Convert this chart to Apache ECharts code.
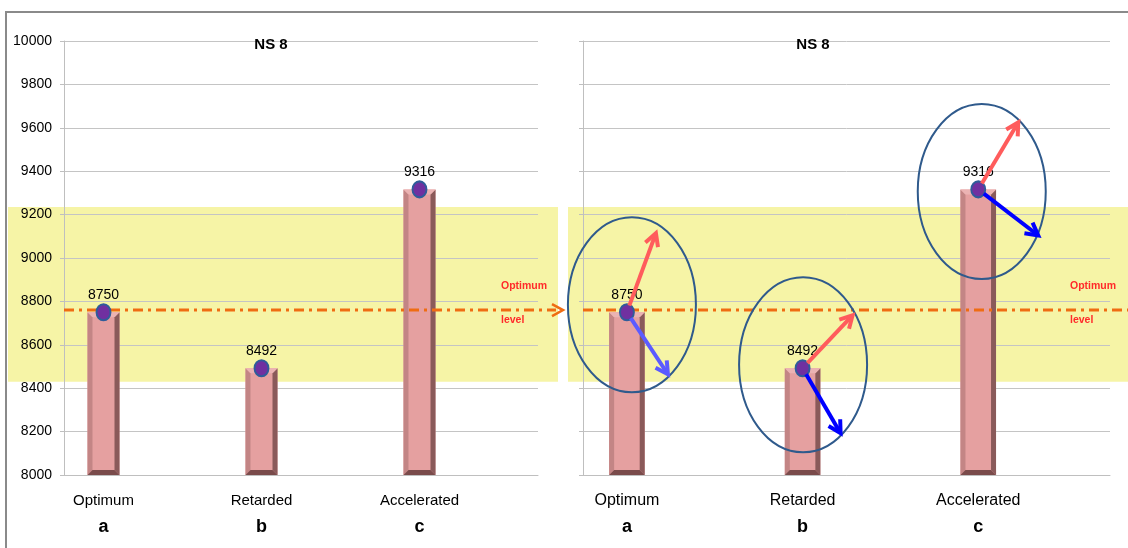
<!DOCTYPE html>
<html>
<head>
<meta charset="utf-8">
<script src="https://cdn.jsdelivr.net/npm/echarts@6/dist/echarts.min.js"></script>
<style>html,body{margin:0;padding:0;background:#fff}#c{width:1128px;height:548px}</style>
</head>
<body>
<div id="c"></div>
<script>
// ---- data ----
const categories = ['Optimum', 'Retarded', 'Accelerated'];
const letters = ['a', 'b', 'c'];
const values = [8750, 8492, 9316];
const panelTitles = ['NS 8', 'NS 8'];
const yMin = 8000, yMax = 10000, yStep = 200;
const optimumLevel = 8760;
const bandRange = [8430, 9235];
const levelText = ['Optimum', 'level'];

// ---- annotation styling (right panel), pixel offsets from each point ----
const annot = [
  { red: [29, -79], blue: [41, 62], blueColor: '#5b5bff', ell: [5, -7.5] },
  { red: [50, -53], blue: [38, 65], blueColor: '#0000ff', ell: [0.5, -3.5] },
  { red: [40, -67], blue: [60, 46], blueColor: '#0000ff', ell: [3.5, 2] }
];

const FONT = 'Liberation Sans';
// 6 slots: each category occupies every other slot
const slots = [];
categories.forEach((c, i) => { slots.push(c); slots.push(''); });
const pointData = values.map((v, i) => [i * 2, v]);

function renderBar(params, api) {
  const idx = api.value(0), v = api.value(1);
  const top = api.coord([idx, v]);
  const bot = api.coord([idx, yMin]);
  const w = api.size([1, 0])[0] * 0.405;
  const x0 = top[0] - w / 2, x1 = top[0] + w / 2, yt = top[1], yb = bot[1];
  const bl = 5, br = 5, bt = 5, bb = 5;
  return {
    type: 'group',
    children: [
      { type: 'rect', shape: { x: x0, y: yt, width: w, height: yb - yt }, style: { fill: '#e5a0a0' } },
      { type: 'polygon', shape: { points: [[x0, yt], [x0 + bl, yt + bt], [x0 + bl, yb - bb], [x0, yb]] }, style: { fill: '#c38585' } },
      { type: 'polygon', shape: { points: [[x1, yt], [x1 - br, yt + bt], [x1 - br, yb - bb], [x1, yb]] }, style: { fill: '#8a5a5a' } },
      { type: 'polygon', shape: { points: [[x0, yt], [x1, yt], [x1 - br, yt + bt], [x0 + bl, yt + bt]] }, style: { fill: '#ebb3b3' } },
      { type: 'polygon', shape: { points: [[x0, yb], [x1, yb], [x1 - br, yb - bb], [x0 + bl, yb - bb]] }, style: { fill: '#7a4b4b' } }
    ]
  };
}

function xAxisFor(g) {
  return {
    type: 'category', gridIndex: g, data: slots,
    axisLine: { lineStyle: { color: '#bfbfbf', width: 1 } },
    axisTick: { interval: 0, length: 6, lineStyle: { color: '#bfbfbf' } },
    axisLabel: {
      interval: 0, margin: 14, color: '#000',
      formatter: (val, i) => {
        if (!val) return '';
        const k = categories.indexOf(val);
        return '{n|' + val + '}\n{l|' + letters[k] + '}';
      },
      rich: {
        n: { fontFamily: FONT, fontSize: g === 0 ? 15 : 16, lineHeight: 24, color: '#000' },
        l: { fontFamily: FONT, fontSize: 18, fontWeight: 'bold', lineHeight: 28, color: '#000' }
      }
    }
  };
}
function yAxisFor(g) {
  return {
    type: 'value', gridIndex: g, min: yMin, max: yMax, interval: yStep,
    axisLine: { show: true, lineStyle: { color: '#bfbfbf' } },
    axisTick: { show: true, length: 4, lineStyle: { color: '#bfbfbf' } },
    splitLine: { lineStyle: { color: '#c4c4c4' } },
    axisLabel: { show: g === 0, margin: 12, color: '#000', fontFamily: FONT, fontSize: 14, formatter: v => String(v) }
  };
}
function seriesFor(g) {
  return [
    { type: 'custom', xAxisIndex: g, yAxisIndex: g, data: pointData, renderItem: renderBar, encode: { x: 0, y: 1 }, z: 2 },
    {
      type: 'scatter', xAxisIndex: g, yAxisIndex: g, data: pointData, symbol: 'circle', symbolSize: [14, 16], z: 4,
      itemStyle: { color: '#7030a0', borderColor: '#2f5c9a', borderWidth: 2, opacity: 1 },
      label: { show: true, position: 'top', distance: 1, color: '#000', fontFamily: FONT, fontSize: 14, formatter: p => String(p.value[1]) }
    }
  ];
}

const chart = echarts.init(document.getElementById('c'));
chart.setOption({
  animation: false,
  backgroundColor: '#fff',
  grid: [
    { left: 64, top: 41, width: 474, height: 434 },
    { left: 583, top: 41, width: 527, height: 434 }
  ],
  xAxis: [xAxisFor(0), xAxisFor(1)],
  yAxis: [yAxisFor(0), yAxisFor(1)],
  series: seriesFor(0).concat(seriesFor(1))
});

// ---- annotations positioned through the axes ----
const px = (g, i, v) => chart.convertToPixel({ xAxisIndex: g, yAxisIndex: g }, [i, v]);
const gfx = [];
const panels = [
  { g: 0, bandX: [8, 558], lineX: [64, 556], arrow: true, textX: 501, titleX: 271 },
  { g: 1, bandX: [568, 1128], lineX: [583, 1128], arrow: false, textX: 1070, titleX: 813 }
];
panels.forEach(P => {
  const yTop = px(P.g, 0, bandRange[1])[1];
  const yBot = px(P.g, 0, bandRange[0])[1];
  gfx.push({ type: 'rect', z: -1, shape: { x: P.bandX[0], y: yTop, width: P.bandX[1] - P.bandX[0], height: yBot - yTop }, style: { fill: '#f6f4a6' } });
  const yl = px(P.g, 0, optimumLevel)[1];
  gfx.push({ type: 'line', z: 3, shape: { x1: P.lineX[0], y1: yl, x2: P.lineX[1], y2: yl }, style: { stroke: '#ef6c12', lineWidth: 3, lineDash: [10, 5, 3, 5] } });
  if (P.arrow) {
    gfx.push({ type: 'polyline', z: 3, shape: { points: [[P.lineX[1] - 4, yl - 6], [P.lineX[1] + 7, yl], [P.lineX[1] - 4, yl + 6]] }, style: { stroke: '#ef6c12', lineWidth: 2.5, fill: null } });
  }
  gfx.push({ type: 'text', z: 5, style: { x: P.textX, y: yl - 24, text: levelText[0], fill: '#ff2a2a', font: 'bold 10.5px "' + FONT + '"', textVerticalAlign: 'middle' } });
  gfx.push({ type: 'text', z: 5, style: { x: P.textX, y: yl + 10, text: levelText[1], fill: '#ff2a2a', font: 'bold 10.5px "' + FONT + '"', textVerticalAlign: 'middle' } });
  gfx.push({ type: 'text', z: 5, style: { x: P.titleX, y: 45, text: panelTitles[P.g], fill: '#000', font: 'bold 15px "' + FONT + '"', textAlign: 'center', textVerticalAlign: 'middle' } });
});

function arrowEls(p, d, color) {
  const len = Math.hypot(d[0], d[1]);
  const ux = d[0] / len, uy = d[1] / len;
  const s = [p[0] + ux * 7, p[1] + uy * 7];
  const t = [p[0] + d[0], p[1] + d[1]];
  const L = 14, a = 0.5;
  const rot = (ang) => [-(ux * Math.cos(ang) - uy * Math.sin(ang)) * L, -(ux * Math.sin(ang) + uy * Math.cos(ang)) * L];
  const r1 = rot(a), r2 = rot(-a);
  return [
    { type: 'line', z: 20, shape: { x1: s[0], y1: s[1], x2: t[0] - ux * 1.5, y2: t[1] - uy * 1.5 }, style: { stroke: color, lineWidth: 4 } },
    { type: 'polyline', z: 20, shape: { points: [[t[0] + r1[0], t[1] + r1[1]], t, [t[0] + r2[0], t[1] + r2[1]]] }, style: { stroke: color, lineWidth: 4, fill: null, lineJoin: 'miter' } }
  ];
}
pointData.forEach((d, k) => {
  const p = px(1, d[0], d[1]);
  const A = annot[k];
  gfx.push({ type: 'ellipse', z: 19, shape: { cx: p[0] + A.ell[0], cy: p[1] + A.ell[1], rx: 64, ry: 87.5 }, style: { stroke: '#2f5a8c', lineWidth: 2, fill: null } });
  arrowEls(p, A.red, '#ff5c5c').forEach(e => gfx.push(e));
  arrowEls(p, A.blue, A.blueColor).forEach(e => gfx.push(e));
});

// slide frame
gfx.push({ type: 'polyline', z: 30, shape: { points: [[6, 548], [6, 12], [1128, 12]] }, style: { stroke: '#8a8a8a', lineWidth: 2, fill: null } });

chart.setOption({ graphic: { elements: gfx } });
</script>
</body>
</html>
